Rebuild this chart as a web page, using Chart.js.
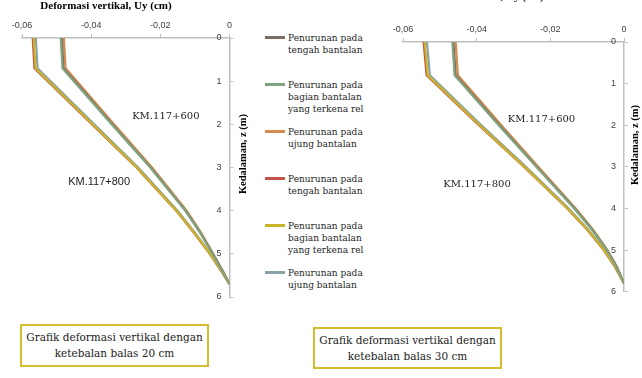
<!DOCTYPE html>
<html>
<head>
<meta charset="utf-8">
<script src="https://cdn.jsdelivr.net/npm/chart.js@4.4.0/dist/chart.umd.min.js"></script>
<style>
  html, body { margin: 0; padding: 0; background: #fff; }
  body { width: 642px; height: 378px; position: relative; overflow: hidden; }
  .wrap { position: absolute; top: 0; height: 310px; }
  #wrap20 { left: 0; width: 255px; }
  #wrap30 { left: 380px; width: 262px; }
  #legend { position: absolute; left: 265px; top: 0; width: 115px; height: 300px;
    font-family: 'DejaVu Serif', serif; font-size: 9px; color: #262626; }
  .item { position: absolute; left: 0; }
  .swatch { position: absolute; left: 0; top: -1.5px; width: 20px; height: 3px; }
  .label { position: absolute; left: 23px; top: -6px; line-height: 12px; white-space: nowrap; }
  .caption { position: absolute; box-sizing: border-box; border: 2px solid #d5bd2e; background: #fff;
    font-family: 'DejaVu Serif', serif; font-size: 10.5px; line-height: 16px; color: #222;
    text-align: center; padding-top: 3px; }
</style>
</head>
<body>
<div class="wrap" id="wrap20"><canvas id="chart20" width="255" height="310"></canvas></div>
<div class="wrap" id="wrap30"><canvas id="chart30" width="262" height="310"></canvas></div>
<div id="legend"></div>
<div class="caption" style="left:20px; top:324px; width:189px; height:43px;">Grafik deformasi vertikal dengan<br>ketebalan balas 20 cm</div>
<div class="caption" style="left:313px; top:327px; width:189px; height:42px;">Grafik deformasi vertikal dengan<br>ketebalan balas 30 cm</div>
<script>
// kedalaman (m)
const depth20 = [0, 0.7, 2, 3, 4, 4.5, 5, 5.4, 5.7];
const depth30 = [0, 0.8, 2, 3, 4, 4.5, 5, 5.4, 5.8];

const seriesNames = [
  ['Penurunan pada', 'tengah bantalan'],
  ['Penurunan pada', 'bagian bantalan', 'yang terkena rel'],
  ['Penurunan pada', 'ujung bantalan'],
  ['Penurunan pada', 'tengah bantalan'],
  ['Penurunan pada', 'bagian bantalan', 'yang terkena rel'],
  ['Penurunan pada', 'ujung bantalan']
];
const seriesColors = ['#7d6c62', '#7fa47f', '#d5894c', '#c2544a', '#ccb42a', '#8ba3a6'];
// which line sits on top inside each bundle
const seriesOrder = [1, 0, 1, 1, 0, 1];

// balas 20 cm, Uy (cm)
const b20_600_tengah = [-0.0485, -0.0480, -0.0339, -0.0228, -0.0127, -0.0085, -0.0048, -0.0020, 0];
const b20_600_rel    = [-0.0488, -0.0483, -0.0341, -0.0229, -0.0128, -0.0086, -0.0049, -0.0021, 0];
const b20_600_ujung  = [-0.0479, -0.0474, -0.0334, -0.0224, -0.0124, -0.0083, -0.0047, -0.0019, 0];
const b20_800_tengah = [-0.0569, -0.0564, -0.0398, -0.0269, -0.0154, -0.0104, -0.0057, -0.0024, 0];
const b20_800_rel    = [-0.0566, -0.0561, -0.0396, -0.0268, -0.0153, -0.0103, -0.0056, -0.0023, 0];
const b20_800_ujung  = [-0.0560, -0.0555, -0.0391, -0.0264, -0.0150, -0.0101, -0.0055, -0.0022, 0];

// balas 30 cm, Uy (cm)
const b30_600_tengah = [-0.0463, -0.0457, -0.0338, -0.0237, -0.0134, -0.0087, -0.0046, -0.0020, 0];
const b30_600_rel    = [-0.0466, -0.0460, -0.0340, -0.0238, -0.0135, -0.0088, -0.0047, -0.0021, 0];
const b30_600_ujung  = [-0.0457, -0.0451, -0.0333, -0.0233, -0.0131, -0.0085, -0.0045, -0.0019, 0];
const b30_800_tengah = [-0.0544, -0.0536, -0.0394, -0.0271, -0.0154, -0.0101, -0.0055, -0.0025, 0];
const b30_800_rel    = [-0.0541, -0.0533, -0.0392, -0.0270, -0.0153, -0.0100, -0.0054, -0.0024, 0];
const b30_800_ujung  = [-0.0535, -0.0527, -0.0387, -0.0266, -0.0150, -0.0098, -0.0053, -0.0023, 0];

const xTicks = [-0.06, -0.04, -0.02, 0];

// legend
const legendEl = document.getElementById('legend');
seriesNames.forEach((lines, i) => {
  const item = document.createElement('div');
  item.className = 'item';
  item.style.top = (37.7 + 47 * i) + 'px';
  item.innerHTML = '<div class="swatch" style="background:' + seriesColors[i] + '"></div>' +
    '<div class="label">' + lines.join('<br>') + '</div>';
  legendEl.appendChild(item);
});

const extraText = {
  id: 'extraText',
  afterDraw(chart, args, opts) {
    const ctx = chart.ctx;
    const xs = chart.scales.x, ys = chart.scales.y;
    (opts.items || []).forEach(it => {
      let px = it.x, py = it.y;
      if (it.data) { px = xs.getPixelForValue(it.x); py = ys.getPixelForValue(it.y); }
      ctx.save();
      ctx.font = it.font;
      ctx.fillStyle = it.color || '#000';
      ctx.textAlign = 'center';
      ctx.textBaseline = 'middle';
      ctx.translate(px, py);
      if (it.rotate) ctx.rotate(it.rotate);
      ctx.fillText(it.text, 0, 0);
      ctx.restore();
    });
  }
};

const makeSets = (depth, list) => list.map((vals, i) => ({
  label: seriesNames[i].join(' '),
  data: vals.map((v, j) => ({ x: v, y: depth[j] })),
  borderColor: seriesColors[i],
  backgroundColor: seriesColors[i],
  borderWidth: 2.2,
  pointRadius: 0,
  tension: 0,
  order: seriesOrder[i],
  fill: false
}));

const makeChart = (id, depth, list, pad, texts) => {
  return new Chart(document.getElementById(id), {
    type: 'line',
    data: { datasets: makeSets(depth, list) },
    plugins: [extraText],
    options: {
      responsive: false,
      animation: false,
      layout: { padding: pad },
      plugins: {
        legend: { display: false },
        tooltip: { enabled: false },
        extraText: { items: texts }
      },
      scales: {
        x: {
          type: 'linear',
          position: 'top',
          min: -0.06,
          max: 0,
          afterBuildTicks: (s) => { s.ticks = xTicks.map(v => ({ value: v })); },
          afterFit: (s) => { s.height = 20; },
          ticks: {
            padding: 3,
            color: '#404040',
            font: { family: 'Liberation Sans', size: 9 },
            callback: (v) => v === 0 ? '0' : v.toFixed(2).replace('.', ',')
          },
          grid: { drawOnChartArea: false, tickLength: 4, color: '#bfbfbf' },
          border: { color: '#bfbfbf', width: 1.5 }
        },
        y: {
          type: 'linear',
          position: 'right',
          reverse: true,
          min: 0,
          max: 6,
          afterFit: (s) => { s.width = 6; },
          ticks: {
            stepSize: 1,
            mirror: true,
            padding: -8,
            color: '#404040',
            font: { family: 'Liberation Sans', size: 9 }
          },
          grid: { drawOnChartArea: false, tickLength: 4, color: '#bfbfbf' },
          border: { color: '#bfbfbf', width: 1.5 }
        }
      }
    }
  });
};

const titleFont = 'bold 11px "Liberation Serif"';
const yTitleFont = 'bold 10.5px "Liberation Serif"';
const slabFont = '10px "DejaVu Serif"';

makeChart('chart20', depth20,
  [b20_600_tengah, b20_600_rel, b20_600_ujung, b20_800_tengah, b20_800_rel, b20_800_ujung],
  { left: 22, top: 18, right: 19.5, bottom: 13 },
  [
    { text: 'Deformasi vertikal, Uy (cm)', x: 106, y: 6, font: titleFont },
    { text: 'Kedalaman, z (m)', x: 243, y: 154, font: yTitleFont, rotate: -Math.PI / 2 },
    { text: 'KM.117+600', data: true, x: -0.0184, y: 1.81, font: slabFont, color: '#222' },
    { text: 'KM.117+800', data: true, x: -0.0377, y: 3.33, font: '11px "Liberation Sans"', color: '#222' }
  ]);

makeChart('chart30', depth30,
  [b30_600_tengah, b30_600_rel, b30_600_ujung, b30_800_tengah, b30_800_rel, b30_800_ujung],
  { left: 23, top: 22, right: 12, bottom: 18.3 },
  [
    { text: 'Deformasi vertikal, Uy (cm)', x: 98, y: -2.5, font: titleFont },
    { text: 'Kedalaman, z (m)', x: 255, y: 145, font: yTitleFont, rotate: -Math.PI / 2 },
    { text: 'KM.117+600', data: true, x: -0.0224, y: 1.85, font: slabFont, color: '#222' },
    { text: 'KM.117+800', data: true, x: -0.0399, y: 3.41, font: slabFont, color: '#222' }
  ]);
</script>
</body>
</html>
